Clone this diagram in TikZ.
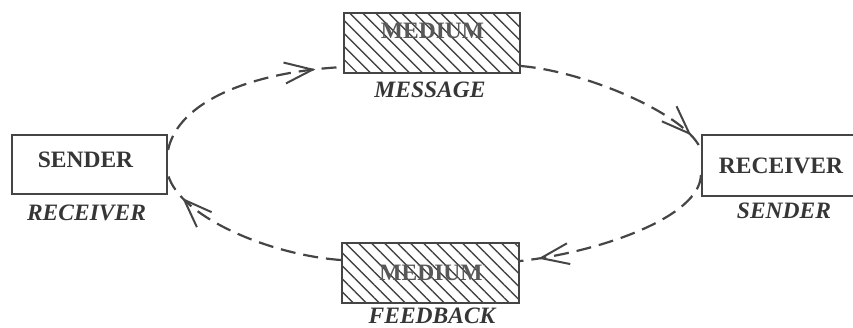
\documentclass[tikz,border=0pt]{standalone}
\usepackage{fontspec}
\setmainfont{Liberation Serif}
\usetikzlibrary{patterns.meta,decorations.markings,calc}

\definecolor{ink}{HTML}{454545}
\definecolor{txt}{HTML}{363636}

\begin{document}
\begin{tikzpicture}[x=1pt,y=1pt,
  box/.style={draw=ink, line width=2.2pt, fill=white, minimum width=155pt, minimum height=59pt, inner sep=0pt},
  medium/.style={draw=ink, line width=2.2pt, minimum width=176pt, minimum height=60pt, inner sep=0pt,
    pattern={Lines[angle=-45,distance=9.2pt,line width=1.4pt]}, pattern color=ink},
  role/.style={font=\fontsize{23.5}{23.5}\selectfont\bfseries, text=txt, inner sep=0pt},
  alt/.style={font=\fontsize{23.5}{23.5}\selectfont\bfseries\itshape, text=txt, inner sep=0pt},
  mtext/.style={font=\fontsize{23.5}{23.5}\selectfont\bfseries, text=ink!90, inner sep=0pt},
  flow/.style={draw=ink, line width=2.2pt, dash pattern=on 15pt off 8pt},
  tipat/.style={postaction={decorate}, decoration={markings, mark=at position #1 with
    {\draw[ink, solid, line width=2pt] (-28pt,10.5pt) -- (0pt,0pt) -- (-28pt,-10.5pt);}}}
]
\useasboundingbox (0,0) rectangle (853,327);

% end points of the loop
\node[box] (sender) at (89.5,162.5) {};
\node[box, minimum height=61pt] (receiver) at (779.5,161.5) {};
\node[medium] (mtop) at (432,284) {};
\node[medium, minimum width=177pt] (mbot) at (430.5,54) {};

% texts
\node[role] (sendertxt) at (85.5,167) {SENDER};
\node[role] (receivertxt) at (781,161.5) {RECEIVER};
\node[alt] (senderalt) at (86.5,114) {RECEIVER};
\node[alt] (receiveralt) at (784,116) {SENDER};
\node[mtext] (mtoptxt) at (432.5,296) {MEDIUM};
\node[mtext] (mbottxt) at (431,54.5) {MEDIUM};
\node[alt] (msg) at (430,237) {MESSAGE};
\node[alt] (fb) at (432,11.5) {FEEDBACK};

% the dashed communication loop, clockwise
\draw[flow, tipat=0.85] ($(sender.east)+(0,14.5)$) .. controls (178,225) and (250,255) .. ($(mtop.west)+(0,-24)$);
\draw[flow, tipat=0.9] ($(mtop.east)+(0,-23)$) .. controls (590,255) and (690,210) .. ($(receiver.west)+(0,15.5)$);
\draw[flow, tipat=0.9] ($(receiver.west)+(0,-9.5)$) .. controls (700,110) and (600,75) .. ($(mbot.east)+(0,12)$);
\draw[flow, tipat=0.85] ($(mbot.west)+(0,13)$) .. controls (270,72) and (180,110) .. ($(sender.east)+(0,-10.5)$);
\end{tikzpicture}
\end{document}
